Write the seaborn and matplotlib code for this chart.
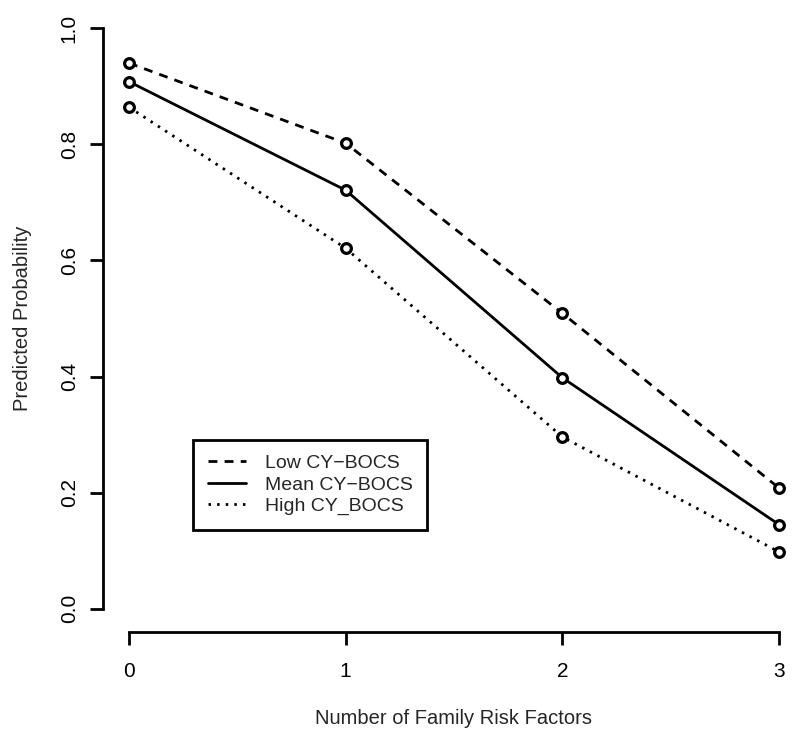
import pandas as pd
import matplotlib
matplotlib.use("Agg")
import matplotlib.pyplot as plt
import seaborn as sns

# valori
risk_factors = [0, 1, 2, 3]
low_cybocs = [0.940, 0.802, 0.509, 0.208]
mean_cybocs = [0.908, 0.721, 0.398, 0.145]
high_cybocs = [0.864, 0.621, 0.296, 0.098]
series_names = ["Low CY\u2212BOCS", "Mean CY\u2212BOCS", "High CY_BOCS"]
y_ticks = [0.0, 0.2, 0.4, 0.6, 0.8, 1.0]

sns.set_theme(style="white")
plt.rcParams['font.family'] = ['Liberation Sans', 'DejaVu Sans']

fig = plt.figure(figsize=(8, 7.44), dpi=100)
ax = fig.add_axes([103 / 800, 112 / 744, 702 / 800, 627 / 744])

styles = [(0, (3.2, 2.6)), "-", (0, (0.9, 2.2))]
for name, vals, ls in zip(series_names, [low_cybocs, mean_cybocs, high_cybocs], styles):
    sns.lineplot(x=risk_factors, y=vals, ax=ax, label=name, color="black",
                 linestyle=ls, linewidth=2.0, marker="o", markersize=7,
                 markerfacecolor="white", markeredgecolor="black",
                 markeredgewidth=2.3)

ax.set_xlim(-0.12, 3.12)
ax.set_ylim(-0.04, 1.04)
ax.set_xticks(risk_factors)
ax.set_yticks(y_ticks)
ax.set_yticklabels([f"{t:.1f}" for t in y_ticks], rotation=90, va="center")

# stil R: axe detasate
for side in ["top", "right"]:
    ax.spines[side].set_visible(False)
ax.spines["left"].set_bounds(0, 1)
ax.spines["bottom"].set_bounds(0, 3)
for side in ["left", "bottom"]:
    ax.spines[side].set_color("black")
    ax.spines[side].set_linewidth(2.0)
ax.tick_params(axis="both", bottom=True, left=True, direction="out",
               length=9.5, width=2.0, color="black", labelsize=15,
               labelcolor="black")
ax.tick_params(axis="x", pad=12)
ax.tick_params(axis="y", pad=8)

ax.set_xlabel("Number of Family Risk Factors", fontsize=14.5, labelpad=20)
ax.set_ylabel("Predicted Probability", fontsize=14.5, labelpad=20)

leg = ax.legend(loc="lower left", bbox_to_anchor=(193 / 800, 214 / 744),
                bbox_transform=fig.transFigure, borderaxespad=0,
                fancybox=False, frameon=True, framealpha=1, fontsize=14,
                handlelength=2.0, handletextpad=0.95, borderpad=0.75,
                labelspacing=0.2)
leg.get_frame().set_edgecolor("black")
leg.get_frame().set_linewidth(2.0)
for h in leg.legend_handles:
    h.set_marker("")

fig.savefig("out.png", dpi=100)
